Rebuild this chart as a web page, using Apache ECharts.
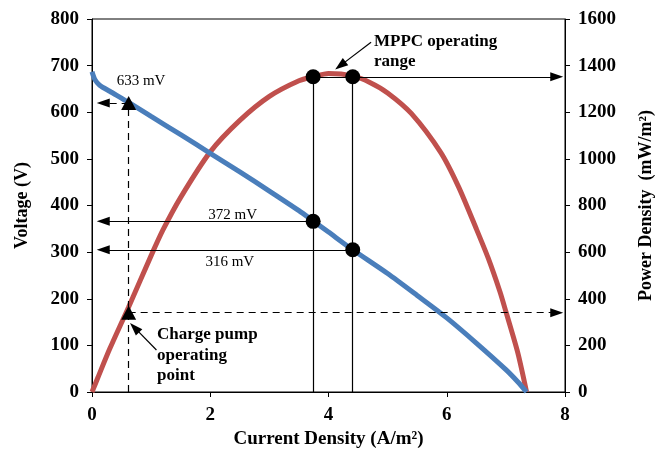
<!DOCTYPE html>
<html>
<head>
<meta charset="utf-8">
<script src="https://cdn.jsdelivr.net/npm/echarts@6/dist/echarts.min.js"></script>
<style>
  html, body { margin: 0; padding: 0; background: #fff; }
  #chart { width: 656px; height: 455px; }
</style>
</head>
<body>
<div id="chart"></div>
<script>
// voltage curve (left axis)
const voltJ = [0, 0.05, 0.13, 0.3, 0.62, 1.0, 1.5, 2.0, 2.5, 3.0, 3.5, 3.74, 4.0, 4.41, 5.0, 5.5, 6.0, 6.5, 7.0, 7.2, 7.35];
const voltV = [687, 670, 658, 645, 621, 591, 552, 512, 472, 431, 389, 367, 343, 305, 254, 207, 159, 105, 48, 22, 0];

// power density curve (right axis)
const powJ = [0, 0.1, 0.3, 0.62, 1.0, 1.2, 1.5, 2.0, 2.5, 3.0, 3.5, 3.74, 4.0, 4.41, 4.7, 5.0, 5.4, 5.9, 6.2, 6.5, 6.7, 6.9, 7.0, 7.2, 7.35];
const powP = [0, 62, 185, 365, 585, 695, 835, 1030, 1165, 1268, 1335, 1352, 1366, 1356, 1328, 1283, 1195, 1027, 880, 700, 575, 430, 345, 170, 0];

const xTicks = [0, 2, 4, 6, 8];
const voltTicks = [0, 100, 200, 300, 400, 500, 600, 700, 800];
const powTicks = [0, 200, 400, 600, 800, 1000, 1200, 1400, 1600];

// operating points
const cpJ = 0.62, cpV = 620, cpP = 340;        // charge pump
const mppJ = [3.74, 4.41];
const mppV = [366, 305];
const mppP = 1352;

// text notes (left axis units)
const noteText = ['633 mV', '372 mV', '316 mV'];
const noteJ = [0.83, 2.38, 2.33];
const noteV = [666, 380, 278];

// arrow tips sit just off the axes
const tipL = 0.19, tipR = 7.86;

const serif = 'Liberation Serif';
const chart = echarts.init(document.getElementById('chart'));

const arrowSize = [9, 13];
const zip = (a, b) => a.map((v, i) => [v, b[i]]);
const black = { color: '#000', opacity: 1 };

const option = {
  animation: false,
  backgroundColor: '#fff',
  grid: { left: 92, right: 91, top: 19, bottom: 63, show: true, borderColor: '#000', borderWidth: 1, outerBoundsMode: 'none' },
  xAxis: {
    type: 'value', min: xTicks[0], max: xTicks[xTicks.length - 1], interval: 2,
    name: 'Current Density (A/m²)', nameLocation: 'middle', nameGap: 38,
    nameTextStyle: { fontFamily: serif, fontWeight: 'bold', fontSize: 19, color: '#000' },
    axisLine: { lineStyle: { color: '#000', width: 1 } },
    axisTick: { inside: false, length: 5, lineStyle: { color: '#000' } },
    axisLabel: { margin: 14, fontFamily: serif, fontWeight: 'bold', fontSize: 19, color: '#000' },
    splitLine: { show: false }
  },
  yAxis: [{
    type: 'value', min: voltTicks[0], max: voltTicks[voltTicks.length - 1], interval: 100,
    name: 'Voltage (V)', nameLocation: 'middle', nameGap: 61,
    nameTextStyle: { fontFamily: serif, fontWeight: 'bold', fontSize: 18, color: '#000' },
    axisLine: { show: true, lineStyle: { color: '#000', width: 1 } },
    axisTick: { show: true, length: 5, lineStyle: { color: '#000' } },
    axisLabel: { margin: 13, fontFamily: serif, fontWeight: 'bold', fontSize: 19, color: '#000' },
    splitLine: { show: false }
  }, {
    type: 'value', min: powTicks[0], max: powTicks[powTicks.length - 1], interval: 200,
    name: 'Power Density  (mW/m²)', nameLocation: 'middle', nameGap: 72, nameRotate: 90,
    nameTextStyle: { fontFamily: serif, fontWeight: 'bold', fontSize: 18, color: '#000' },
    axisLine: { show: true, lineStyle: { color: '#000', width: 1 } },
    axisTick: { show: true, length: 5, lineStyle: { color: '#000' } },
    axisLabel: { margin: 13, fontFamily: serif, fontWeight: 'bold', fontSize: 19, color: '#000', formatter: v => String(v) },
    splitLine: { show: false }
  }],
  series: [
    {
      name: 'Voltage', type: 'line', yAxisIndex: 0, data: zip(voltJ, voltV),
      smooth: 0.25, showSymbol: false, lineStyle: { color: '#4a7ebb', width: 5 }, z: 3,
      markLine: {
        silent: true, symbol: ['none', 'triangle'], symbolSize: arrowSize, label: { show: false },
        lineStyle: { color: '#000', width: 1.2, type: 'solid' },
        data: [
          [{ coord: [mppJ[0], mppV[0]] }, { coord: [tipL, mppV[0]] }],
          [{ coord: [mppJ[1], mppV[1]] }, { coord: [tipL, mppV[1]] }],
          [{ coord: [cpJ, cpV], lineStyle: { type: [7, 5] } }, { coord: [tipL, cpV] }],
          [{ coord: [cpJ, 0], symbol: 'none', lineStyle: { type: [7, 5] } }, { coord: [cpJ, cpV], symbol: 'none' }],
          [{ coord: [1.09, 90] }, { coord: [0.72, 138] }]
        ]
      }
    },
    {
      name: 'Power', type: 'line', yAxisIndex: 1, data: zip(powJ, powP),
      smooth: 0.25, showSymbol: false, lineStyle: { color: '#c0504d', width: 5 }, z: 2,
      markLine: {
        silent: true, symbol: ['none', 'triangle'], symbolSize: arrowSize, label: { show: false },
        lineStyle: { color: '#000', width: 1.2, type: 'solid' },
        data: [
          [{ coord: [mppJ[0], 0], symbol: 'none' }, { coord: [mppJ[0], mppP], symbol: 'none' }],
          [{ coord: [mppJ[1], 0], symbol: 'none' }, { coord: [mppJ[1], mppP], symbol: 'none' }],
          [{ coord: [mppJ[0], mppP] }, { coord: [tipR, mppP] }],
          [{ coord: [cpJ, cpP], lineStyle: { type: [7, 5] } }, { coord: [tipR, cpP] }],
          [{ coord: [4.72, 1500] }, { coord: [4.2, 1400] }]
        ]
      }
    },
    {
      type: 'scatter', yAxisIndex: 0, symbol: 'triangle', symbolSize: [15, 14],
      itemStyle: black, z: 5, data: [[cpJ, cpV]]
    },
    {
      type: 'scatter', yAxisIndex: 1, symbol: 'triangle', symbolSize: [15, 14],
      itemStyle: black, z: 5, data: [[cpJ, cpP]]
    },
    {
      type: 'scatter', yAxisIndex: 0, symbol: 'circle', symbolSize: 15,
      itemStyle: black, z: 5, data: zip(mppJ, mppV)
    },
    {
      type: 'scatter', yAxisIndex: 1, symbol: 'circle', symbolSize: 15,
      itemStyle: black, z: 5, data: mppJ.map(j => [j, mppP])
    },
    {
      type: 'scatter', yAxisIndex: 0, symbolSize: 0, silent: true, z: 6, itemStyle: black,
      data: noteJ.map((j, i) => ({ value: [j, noteV[i]], name: noteText[i] })),
      label: { show: true, position: 'inside', formatter: '{b}', fontFamily: serif, fontSize: 15, color: '#000', opacity: 1, textBorderWidth: 0 }
    },
    {
      type: 'scatter', yAxisIndex: 0, symbolSize: 0, silent: true, z: 6, itemStyle: black,
      data: [
        { value: [4.77, 730], name: 'MPPC operating\nrange' },
        { value: [1.10, 79], name: 'Charge pump\noperating\npoint' }
      ],
      label: {
        show: true, position: 'right', distance: 0, formatter: '{b}', align: 'left',
        fontFamily: serif, fontWeight: 'bold', fontSize: 17, lineHeight: 20.5, color: '#000', opacity: 1, textBorderWidth: 0
      }
    }
  ]
};
chart.setOption(option);
</script>
</body>
</html>
